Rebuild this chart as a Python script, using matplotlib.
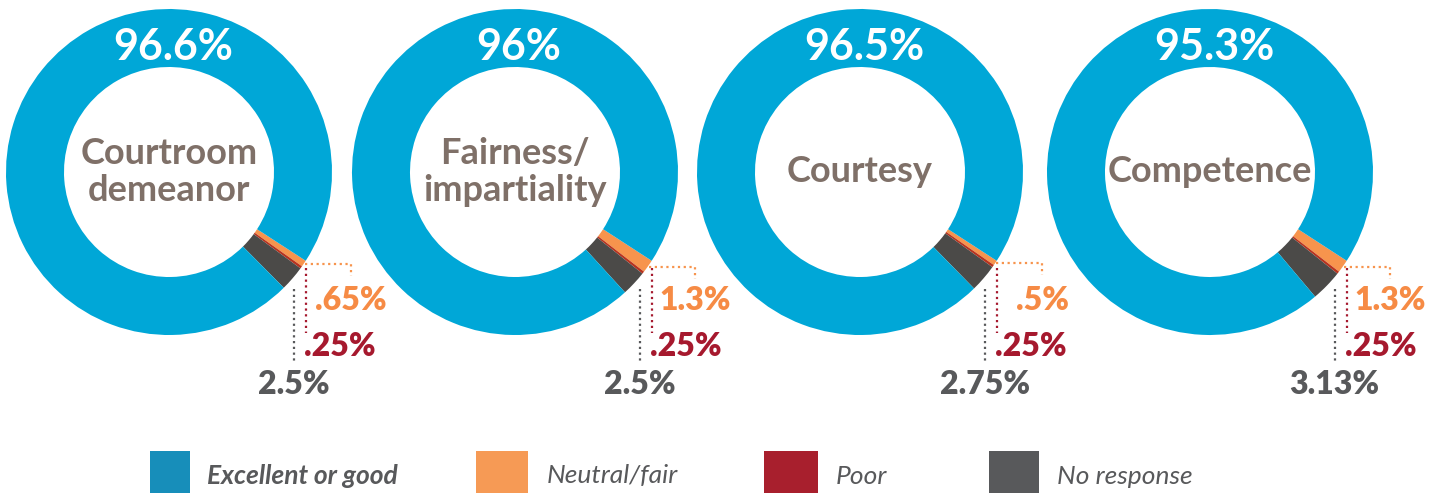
import numpy as np
import matplotlib
matplotlib.use("Agg")
import matplotlib.pyplot as plt
from matplotlib.patches import Rectangle

# survey results, percent
categories = ["Courtroom\ndemeanor", "Fairness/\nimpartiality", "Courtesy", "Competence"]
excellent = [96.6, 96, 96.5, 95.3]
neutral = [0.65, 1.3, 0.5, 1.3]
poor = [0.25, 0.25, 0.25, 0.25]
no_response = [2.5, 2.5, 2.75, 3.13]
legend_labels = ["Excellent or good", "Neutral/fair", "Poor", "No response"]

ring_colors = ["#00A7D7", "#F7944D", "#B8331E", "#4B4A48"]
legend_colors = ["#178EBA", "#F69A55", "#A81F2D", "#58595B"]
label_colors = ["#FFFFFF", "#F68B45", "#A6192E", "#58595B"]
center_color = "#7F7068"

W, H = 1450, 493
centers_x = [169, 515, 860, 1210]
cy = H - 172
R = 163
ring_w = 58
start = -33

plt.rcParams['font.family'] = ['Lato', 'DejaVu Sans']

fig = plt.figure(figsize=(W / 100, H / 100), dpi=100)
ax = fig.add_axes([0, 0, 1, 1])


def fmt(v):
    s = f"{v:g}"
    if s.startswith("0"):
        s = s[1:]
    return s + "%"


def pt(cx, r, deg):
    a = np.radians(deg)
    return cx + r * np.cos(a), cy + r * np.sin(a)


def arc_y(cx, x, r):
    # lower intersection of a vertical line x with circle of radius r
    return cy - np.sqrt(max(r ** 2 - (x - cx) ** 2, 0))


dot = dict(lw=1.6, linestyle=(0, (1, 1.6)))

for i, cx in enumerate(centers_x):
    vals = [neutral[i], poor[i], no_response[i], excellent[i]]
    cols = [ring_colors[1], ring_colors[2], ring_colors[3], ring_colors[0]]
    ax.pie(vals, colors=cols, center=(cx, cy), radius=R, startangle=start,
           counterclock=False,
           wedgeprops=dict(width=ring_w, edgecolor='none', linewidth=0))

    total = sum(vals)
    fo, fr, fg = [v / total * 360 for v in vals[:3]]

    # big number on top of ring
    ax.text(cx + 4, H - 47, fmt(excellent[i]), color="white", fontsize=31,
            fontweight="bold", ha="center", va="center")
    ax.text(cx, cy, categories[i], color=center_color, fontsize=26,
            fontweight="bold", ha="center", va="center", linespacing=1.13)

    edge_x = pt(cx, R, start)[0]

    # neutral label
    ox, oy = pt(cx, R + 1, start - fo / 2)
    ex = ox + 46
    ax.plot([ox, ex, ex], [oy, oy, oy - 12], color=ring_colors[1], **dot)
    ax.text(ex, H - 300, fmt(neutral[i]), color=label_colors[1], fontsize=23,
            fontweight="heavy", ha="center", va="center")

    # poor label
    rx = edge_x
    ax.plot([rx, rx], [arc_y(cx, rx, R + 4), H - 333], color=label_colors[2], **dot)
    ax.text(rx - 2, H - 347, fmt(poor[i]), color=label_colors[2], fontsize=23,
            fontweight="heavy", ha="left", va="center")

    # no response label
    gx = edge_x - 12
    ax.plot([gx, gx], [arc_y(cx, gx, R + 8), H - 363], color=label_colors[3], **dot)
    ax.text(gx, H - 385, fmt(no_response[i]), color=label_colors[3], fontsize=23,
            fontweight="heavy", ha="center", va="center")

# legend
sq_x = [150, 476, 764, 989]
sq_w = [40, 52, 54, 50]
txt_x = [207, 547, 836, 1057]
for j in range(4):
    ax.add_patch(Rectangle((sq_x[j], 0), sq_w[j], 42, color=legend_colors[j], lw=0))
    if j == 0:
        ax.text(txt_x[j], H - 476, legend_labels[j], color="#58595B", fontsize=19,
                fontweight="bold", style="italic", ha="left", va="center")
    else:
        ax.text(txt_x[j], H - 476, legend_labels[j], color="#58595B", fontsize=19,
                fontweight="normal", style="italic", ha="left", va="center")

ax.set_xlim(0, W)
ax.set_ylim(0, H)
ax.set_aspect('auto')
ax.axis('off')

fig.savefig("out.png", dpi=100)
